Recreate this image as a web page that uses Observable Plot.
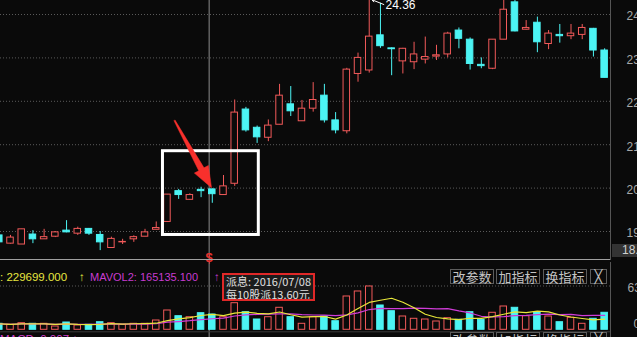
<!DOCTYPE html>
<html><head><meta charset="utf-8">
<script src="https://cdn.jsdelivr.net/npm/d3@7"></script>
<script src="https://cdn.jsdelivr.net/npm/@observablehq/plot@0.6"></script>
<style>
html,body{margin:0;padding:0;background:#0a0a0a;overflow:hidden}
#wrap{position:relative;width:637px;height:337px;overflow:hidden;background:#0a0a0a;font-family:"Liberation Sans",Arial,sans-serif}
#price,#vol{position:absolute;left:0}
#price{top:0;z-index:2}
#vol{top:262px;z-index:1}
.t{position:absolute;white-space:nowrap;line-height:12px;font-size:11.5px}
.btn{position:absolute;box-sizing:border-box;height:15px;border:1px solid #5c5c5c;color:#c4c4c4;font:13px/13px "Noto Sans CJK SC",sans-serif;text-align:center;z-index:3}
#note{position:absolute;left:222px;top:273px;width:93px;height:28px;box-sizing:border-box;border:2px solid #e02828;background:#1c1c1c;color:#e0e0e0;font:11px/12px "Noto Sans CJK SC",sans-serif;padding:0 0 0 2px;z-index:3;overflow:hidden}
#note div{height:12px;line-height:12px}
#note div+div{margin-top:1px}
</style></head><body><div id="wrap"><div id="price"></div><div id="vol"></div></div>
<script>
// ---- data ----
const opens  = [18.91,18.72,18.70,18.93,18.82,18.88,19.02,18.95,19.06,18.92,18.62,18.75,18.82,18.88,19.04,19.22,19.93,19.73,19.96,19.97,19.84,20.10,21.81,21.39,21.16,21.46,21.93,21.54,21.83,22.13,21.56,21.31,22.63,22.71,23.52,23.22,22.92,22.90,22.96,23.03,23.08,23.63,23.42,22.84,22.75,23.42,24.28,23.65,23.81,23.32,23.53,23.50,23.53,23.67,23.17];
const closes = [18.75,18.86,19.05,18.82,18.87,18.98,18.98,19.06,18.95,18.75,18.83,18.76,18.87,18.98,19.08,19.85,19.84,19.84,19.93,19.86,20.04,21.74,21.33,21.17,21.44,22.13,21.77,21.83,22.03,21.56,21.33,22.73,23.00,23.49,23.27,23.20,23.21,23.08,23.02,23.06,23.56,23.44,22.86,22.81,23.42,24.11,23.61,23.69,23.36,23.56,23.50,23.56,23.69,23.17,22.54];
const highs  = [18.95,18.91,19.05,19.02,19.05,19.00,19.25,19.10,19.07,19.00,18.87,18.82,18.90,19.05,19.22,19.85,19.97,19.87,20.02,19.98,20.29,22.03,21.86,21.43,21.57,22.39,22.34,22.02,22.43,22.39,21.74,22.76,23.11,24.36,24.26,23.23,23.22,23.36,23.48,23.29,23.59,23.69,23.46,23.00,23.42,24.34,24.35,23.86,23.94,23.63,23.77,23.77,23.77,23.68,23.21];
const lows   = [18.70,18.71,18.70,18.72,18.82,18.86,18.97,18.91,18.91,18.56,18.62,18.70,18.75,18.88,19.04,19.22,19.74,19.73,19.78,19.65,19.84,20.04,21.29,21.03,21.07,21.46,21.65,21.54,21.75,21.50,21.25,21.25,22.44,22.65,23.22,22.59,22.63,22.73,22.86,22.94,23.00,23.21,22.72,22.75,22.73,23.42,23.60,23.64,23.12,23.19,23.34,23.42,23.42,23.02,22.54];
const volumes= [86900,72400,95600,86900,86900,47800,105700,62300,72400,110000,95600,72400,86900,86900,134700,279500,196900,182400,240400,221500,182400,385200,254800,149100,182400,318600,182400,86900,182400,192600,124500,482200,554600,627000,351900,269300,192600,159300,149100,120200,168000,144800,254800,144800,246200,337400,318600,196900,254800,192600,110000,173800,86900,159300,246200];
const priceTicks = [24,23,22,21,20,19];
const volTopTick = 634000;
const highLabel = "24.36";
const highIndex = 33;
const cursorIndex = 18.72;          // crosshair / ex-dividend marker
const mavol1Text = "229699.000";
const mavol2Text = "165135.100";
const noteLines = ["派息: 2016/07/08", "每10股派13.60元"];
const buttons = ["改参数", "加指标", "换指标"];
const bottomLabel = "18.55";
// annotation shapes in data units (index, price)
const boxAnn = {x1: 14.60, x2: 23.15, y1: 18.92, y2: 20.85};
const arrowAnn = {x1: 15.63, y1: 21.56, x2: 18.93, y2: 20.01};

// ---- build ----
const RED = "#f25a5a", CYAN = "#4cf4f4", BG = "#0a0a0a";
const candles = opens.map((o, i) => ({i, o, c: closes[i], h: highs[i], l: lows[i], v: volumes[i], up: closes[i] >= o}));
const ma = n => candles.map((d, i) => ({i, v: d3.mean(volumes.slice(Math.max(0, i - n + 1), i + 1))}));
const ma5 = ma(5), ma10 = ma(10);
const xScale = {domain: [0, 54], range: [-1.2, 604.14], axis: null};
const yScale = {domain: [24, 19], range: [14, 231], axis: null};
const W = 637, HW = 0.29;

// wedge-shaped arrow polygon, built in data units (pixel widths converted via the scale ratios)
const kx = (xScale.range[1] - xScale.range[0]) / (xScale.domain[1] - xScale.domain[0]);
const ky = (yScale.range[1] - yScale.range[0]) / (yScale.domain[1] - yScale.domain[0]);
function wedge(a) {
  const tx = a.x1 * kx, ty = a.y1 * ky, px = a.x2 * kx, py = a.y2 * ky;
  const L = Math.hypot(px - tx, py - ty), ux = (px - tx) / L, uy = (py - ty) / L, nx = -uy, ny = ux;
  const bx = px - ux * 21, by = py - uy * 21;
  const pts = [[tx + nx * 0.6, ty + ny * 0.6], [bx + nx * 3, by + ny * 3], [bx + nx * 8, by + ny * 8], [px, py],
               [bx - nx * 8, by - ny * 8], [bx - nx * 3, by - ny * 3], [tx - nx * 0.6, ty - ny * 0.6]];
  return pts.map(([x, y]) => ({x: x / kx, y: y / ky}));
}

const price = Plot.plot({
  width: W, height: 262, marginLeft: 0, marginRight: 27, marginTop: 0, marginBottom: 3,
  style: {background: "transparent", overflow: "visible", fontFamily: "Liberation Sans, Arial, sans-serif"},
  x: xScale,
  y: yScale,
  marks: [
    Plot.ruleY(priceTicks, {y: d => d, stroke: "#5a5a5a", strokeDasharray: "1,2"}),
    Plot.text(priceTicks, {y: d => d, text: d => d.toFixed(2), frameAnchor: "right", dx: 16, dy: 2, textAnchor: "start", fill: "#a8a8a8", fontSize: 12}),
    Plot.ruleX([cursorIndex], {x: d => d, stroke: "#8c8c8c"}),
    Plot.ruleX(candles, {x: "i", y1: "l", y2: "h", stroke: d => d.up ? RED : CYAN, clip: true}),
    Plot.rect(candles, {x1: d => d.i - HW, x2: d => d.i + HW, y1: d => Math.min(d.o, d.c), y2: d => Math.max(d.o, d.c),
      fill: d => d.up ? BG : CYAN, stroke: d => d.up ? RED : CYAN, clip: true}),
    Plot.rect([boxAnn], {x1: "x1", x2: "x2", y1: "y1", y2: "y2", fill: "none", stroke: "#ffffff", strokeWidth: 3}),
    Plot.line(wedge(arrowAnn), {x: "x", y: "y", fill: "#f8302c", stroke: "#f8302c", strokeWidth: 0.5}),
    Plot.arrow([{x1: highIndex + 1.3, y1: highs[highIndex] - 0.13, x2: highIndex + 0.25, y2: highs[highIndex] - 0.02}],
      {x1: "x1", y1: "y1", x2: "x2", y2: "y2", stroke: "#ffffff", strokeWidth: 1, headLength: 4}),
    Plot.text([highLabel], {x: highIndex + 1.45, y: highs[highIndex] - 0.15, text: d => d, textAnchor: "start", fill: "#ffffff", fontSize: 12}),
    Plot.text(["$"], {x: cursorIndex, frameAnchor: "bottom", text: d => d, dy: 2, fill: "#e8322e", fontSize: 13, fontWeight: "bold"}),
    Plot.frame({anchor: "bottom", stroke: "#a0a0a0"}),
    Plot.frame({anchor: "right", stroke: "#555"})
  ]
});
document.getElementById("price").append(price);

const vol = Plot.plot({
  width: W, height: 75, marginLeft: 0, marginRight: 27, marginTop: 0, marginBottom: 0,
  style: {background: "transparent", fontFamily: "Liberation Sans, Arial, sans-serif"},
  x: xScale,
  y: {domain: [0, volTopTick], range: [67.3, 23.5], axis: null},
  marks: [
    Plot.ruleY([volTopTick], {y: d => d, stroke: "#5a5a5a", strokeDasharray: "1,2"}),
    Plot.text([volTopTick], {y: d => d, text: d => String(d), frameAnchor: "right", dx: 17, dy: 2, textAnchor: "start", fill: "#a8a8a8", fontSize: 12}),
    Plot.text([0], {y: d => d, text: d => String(d), frameAnchor: "right", dx: 23, dy: -6, textAnchor: "start", fill: "#a8a8a8", fontSize: 12}),
    Plot.ruleX([cursorIndex], {x: d => d, stroke: "#8c8c8c"}),
    Plot.rect(candles, {x1: d => d.i - HW, x2: d => d.i + HW, y1: 0, y2: "v",
      fill: d => d.up ? BG : CYAN, stroke: d => d.up ? RED : CYAN, clip: true}),
    Plot.line(ma10, {x: "i", y: "v", stroke: "#d03cd8", strokeWidth: 1.2, clip: true}),
    Plot.line(ma5, {x: "i", y: "v", stroke: "#e8e83a", strokeWidth: 1.2, clip: true}),
    Plot.ruleY([0], {y: d => d, dy: 2, stroke: "#3a3a3a"}),
    Plot.frame({anchor: "right", stroke: "#555"})
  ]
});
document.getElementById("vol").append(vol);

// ---- header texts / widgets ----
const wrap = document.getElementById("wrap");
function add(cls, text, css) { const e = document.createElement("div"); e.className = cls; e.textContent = text; Object.assign(e.style, css); wrap.append(e); return e; }
add("t", "MAVOL1", {right: "637px", top: "271px", color: "#e6e640"});
add("t", ": " + mavol1Text, {left: "0px", top: "271px", color: "#e6e640"});
add("t", "↑", {left: "79px", top: "271px", color: "#e6e640"});
add("t", "MAVOL2: " + mavol2Text, {left: "90px", top: "271px", color: "#c83cd0", fontSize: "11px"});
add("t", "↑", {left: "214px", top: "271px", color: "#c83cd0"});
const note = add("", "", {}); note.id = "note";
noteLines.forEach(s => { const l = document.createElement("div"); l.textContent = s; note.append(l); });
const bx = [450, 496, 543];
buttons.forEach((b, i) => add("btn", b, {left: bx[i] + "px", top: "269px", width: "44px"}));
add("btn", "╳", {left: "590px", top: "269px", width: "17px", fontFamily: "DejaVu Sans"});
buttons.forEach((b, i) => add("btn", b, {left: bx[i] + "px", top: "332px", width: "44px"}));
add("btn", "╳", {left: "590px", top: "332px", width: "17px", fontFamily: "DejaVu Sans"});
add("t", "MACD: 0.007 ↑", {left: "0px", top: "333px", color: "#d040c8"});
add("t", bottomLabel, {left: "612px", top: "244px", width: "25px", height: "13px", background: "#333", color: "#d0d0d0", paddingLeft: "10px", fontSize: "12px", lineHeight: "13px", zIndex: 3});
</script></body></html>
